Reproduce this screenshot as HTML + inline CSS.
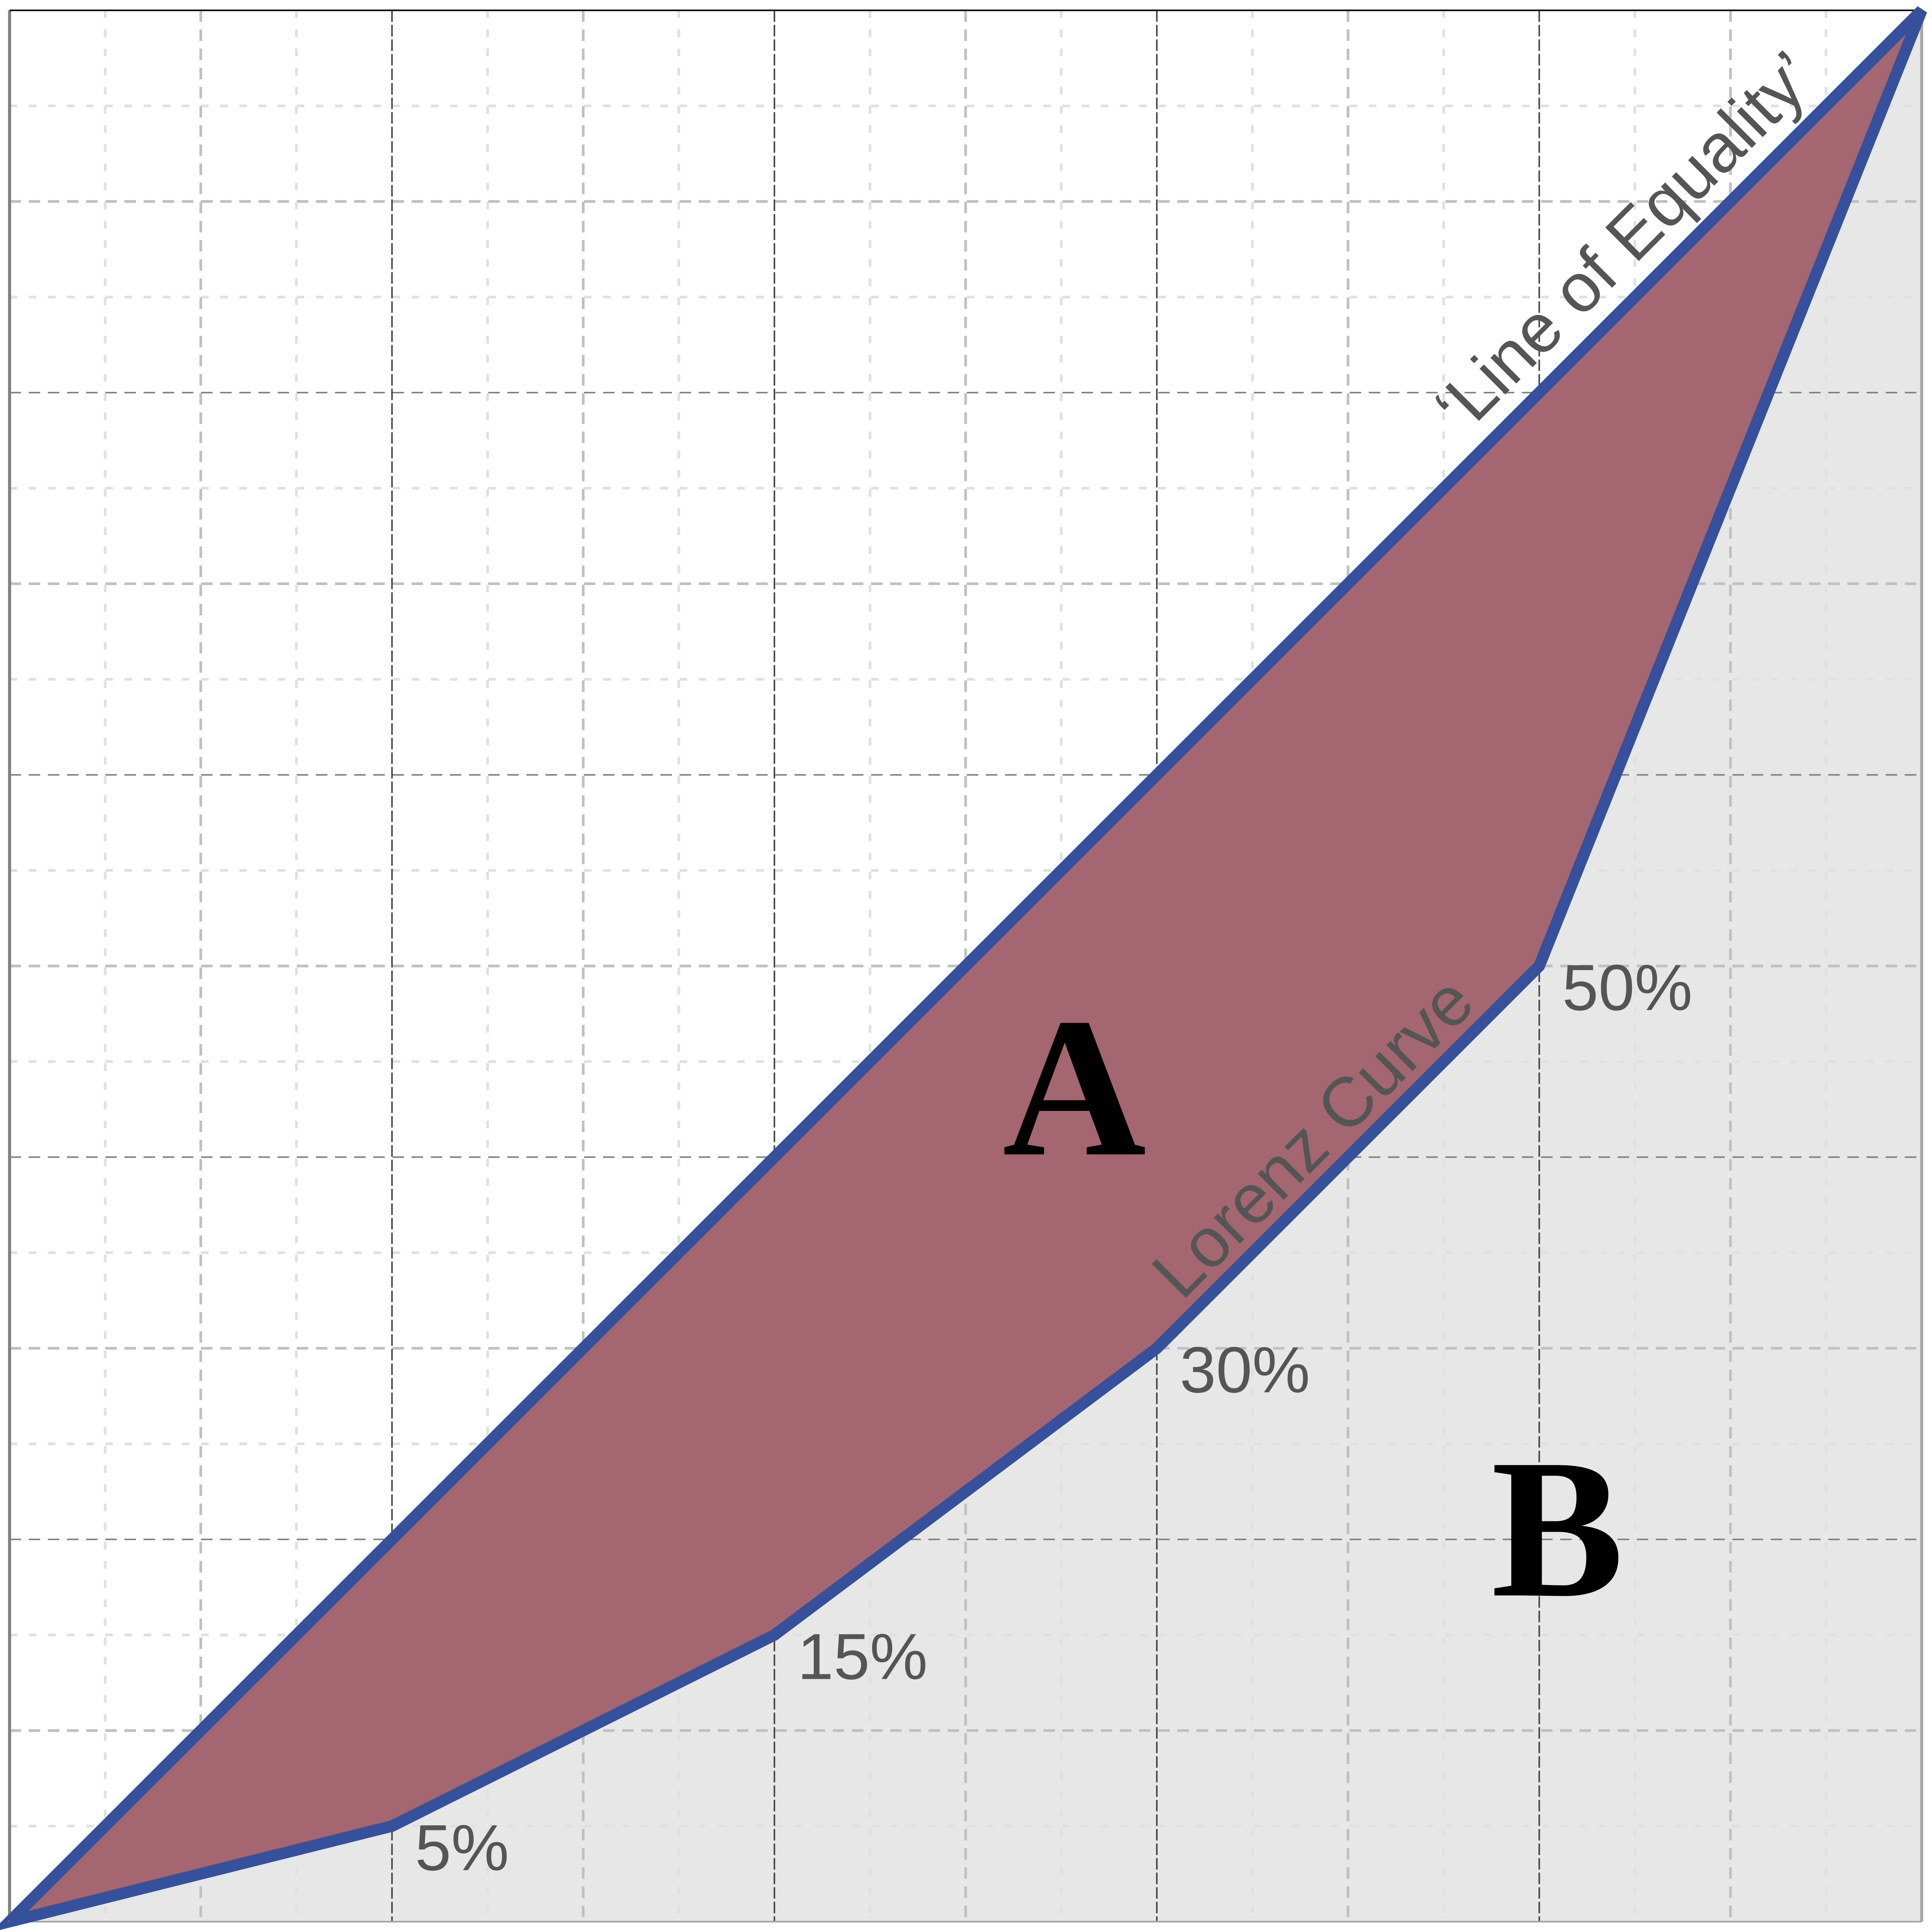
<!DOCTYPE html>
<html><head><meta charset="utf-8"><style>html,body{margin:0;padding:0;background:#fff;width:100%;height:100%;overflow:hidden}svg{display:block;width:100vw;height:100vh}</style></head>
<body>
<svg id="chart" xmlns="http://www.w3.org/2000/svg" viewBox="0 0 5046 5046" preserveAspectRatio="none" overflow="hidden">
<defs><clipPath id="clipB"><polygon id="clipPoly" points="0,0"/></clipPath></defs>
<g id="grid"></g>
<polygon id="areaB" fill="#e7e7e7"/>
<g id="grid2" clip-path="url(#clipB)"></g>
<polygon id="areaA" fill="#a46670"/>
<polygon id="outline" fill="none" stroke="#36509b" stroke-width="30" stroke-linejoin="miter"/>
<line x1="25" y1="27" x2="25" y2="5019" stroke="#808080" stroke-width="8"/>
<line x1="25" y1="5019" x2="5019" y2="5019" stroke="#a0a0a0" stroke-width="4"/>
<line x1="25" y1="27" x2="5019" y2="27" stroke="#000" stroke-width="4"/>
<line x1="5019" y1="27" x2="5019" y2="5019" stroke="#a8a8a8" stroke-width="8"/>
<polyline id="curve" fill="none" stroke="#36509b" stroke-width="30" stroke-linejoin="miter"/>
<g id="labels" font-family="Liberation Sans, sans-serif" fill="#555"></g>
<text x="4250" y="690" font-family="Liberation Sans, sans-serif" font-size="180" fill="#555" text-anchor="middle" transform="rotate(-45 4250 637)">‘Line of Equality’</text>
<text x="3436" y="3029" font-family="Liberation Sans, sans-serif" font-size="182" fill="#555" text-anchor="middle" transform="rotate(-45 3436 2977)">Lorenz Curve</text>
<text x="2806" y="3015" font-family="Liberation Serif, serif" font-weight="bold" font-size="520" fill="#000" text-anchor="middle">A</text>
<text x="4068" y="4167" font-family="Liberation Serif, serif" font-weight="bold" font-size="520" fill="#000" text-anchor="middle">B</text>
</svg>
<script>
const popShare = [0, 0.2, 0.4, 0.6, 0.8, 1];
const incomeShare = [0, 0.05, 0.15, 0.30, 0.50, 1];
const pointLabels = ["", "5%", "15%", "30%", "50%", ""];
const X0=25, X1=5019, Y0=5019, Y1=27;
const sx = v => X0 + v*(X1-X0);
const sy = v => Y0 - v*(Y0-Y1);
const NS="http://www.w3.org/2000/svg";
function gridLines(g, vertical){
  for(let i=1;i<20;i++){
    const v=i/20; const l=document.createElementNS(NS,'line');
    let col,w,dash;
    if(i%4===0){ col = vertical?'#444':'#808080'; w=4; dash = vertical?'30 8':'30 20'; }
    else if(i%2===0){ col='#c0c0c0'; w=7; dash='30 20'; }
    else { col='#e0e0e0'; w=7; dash='20 30'; }
    if(vertical){ l.setAttribute('x1',sx(v)); l.setAttribute('x2',sx(v)); l.setAttribute('y1',Y1); l.setAttribute('y2',Y0); }
    else { l.setAttribute('y1',sy(v)); l.setAttribute('y2',sy(v)); l.setAttribute('x1',X0); l.setAttribute('x2',X1); }
    l.setAttribute('stroke',col); l.setAttribute('stroke-width',w); l.setAttribute('stroke-dasharray',dash);
    
    
    g.appendChild(l);
  }
}
gridLines(document.getElementById('grid'),false); gridLines(document.getElementById('grid'),true);
const curvePts = popShare.map((p,i)=>sx(p)+','+sy(incomeShare[i]));
const bPts = curvePts.join(' ')+' '+sx(1)+','+sy(0);
document.getElementById('areaB').setAttribute('points', bPts);
document.getElementById('clipPoly').setAttribute('points', bPts);
const g2=document.getElementById('grid2');
gridLines(g2,false); gridLines(g2,true);
document.getElementById('areaA').setAttribute('points', curvePts.join(' '));
document.getElementById('outline').setAttribute('points', curvePts.join(' '));
document.getElementById('curve').setAttribute('points', curvePts.join(' ')+' '+sx(0)+','+sy(0)+' '+sx(1)+','+sy(1));
const lg=document.getElementById('labels');
popShare.forEach((p,i)=>{
  if(!pointLabels[i]) return;
  const t=document.createElementNS(NS,'text');
  t.setAttribute('x', sx(p)+60); t.setAttribute('y', sy(incomeShare[i])+115);
  t.setAttribute('font-size','170');
  t.textContent=pointLabels[i];
  
  
  lg.appendChild(t);
});
</script>
</body></html>
